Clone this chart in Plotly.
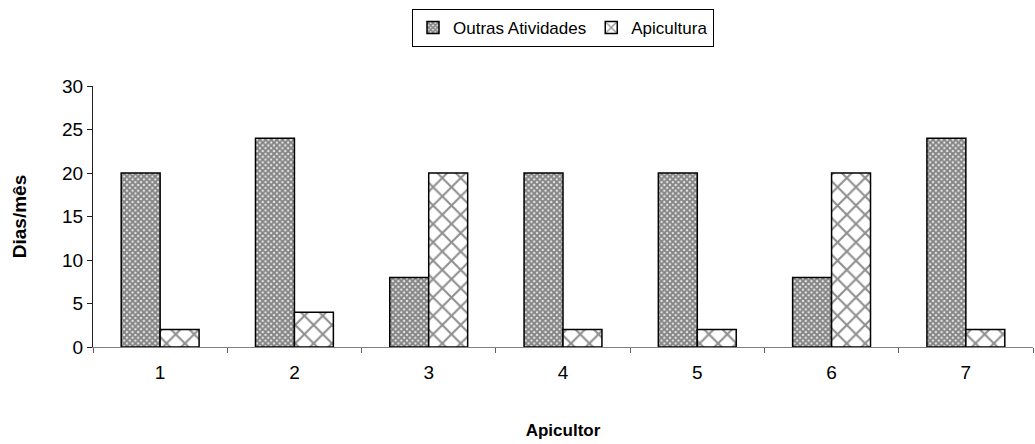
import plotly.graph_objects as go

categories = ["1", "2", "3", "4", "5", "6", "7"]
outras = [20, 24, 8, 20, 20, 8, 24]
apicultura = [2, 4, 20, 2, 2, 20, 2]

FONT = "Liberation Sans, Arial, sans-serif"

fig = go.Figure()
fig.add_trace(go.Bar(
    x=categories, y=outras, name="Outras Atividades",
    marker=dict(color="white",
                line=dict(color="black", width=1.5),
                pattern=dict(shape="x", size=4, fgcolor="#1a1a1a", bgcolor="#f0f0f0", solidity=0.75)),
))
fig.add_trace(go.Bar(
    x=categories, y=apicultura, name="Apicultura",
    marker=dict(color="white",
                line=dict(color="black", width=1.5),
                pattern=dict(shape="x", size=13, fgcolor="#202020", bgcolor="white", solidity=0.3)),
))

fig.update_layout(
    width=1035, height=444,
    margin=dict(l=93, r=2, t=86, b=97),
    paper_bgcolor="white", plot_bgcolor="white",
    barmode="group", bargap=0.42, bargroupgap=0,
    font=dict(family=FONT, size=18, color="black"),
    legend=dict(orientation="h", x=0.5, xanchor="center", y=1.295, yanchor="top",
                bordercolor="black", borderwidth=1, font=dict(size=17),
                itemwidth=30, tracegroupgap=0),
    xaxis=dict(
        type="category", showgrid=False, showline=True, linecolor="#808080", linewidth=1,
        ticks="outside", tickson="boundaries", ticklen=5, tickcolor="#606060",
        tickfont=dict(size=19), ticklabelstandoff=8,
        title=dict(text="<b>Apicultor</b>", font=dict(size=17), standoff=42),
    ),
    yaxis=dict(
        range=[0, 30], tickvals=[0, 5, 10, 15, 20, 25, 30], showgrid=False, zeroline=False,
        showline=True, linecolor="#202020", linewidth=1,
        ticks="outside", ticklen=5, tickcolor="#202020",
        tickfont=dict(size=19),
        title=dict(text="<b>Dias/mês</b>", font=dict(size=19), standoff=30),
    ),
)

fig.write_html("out.html")
